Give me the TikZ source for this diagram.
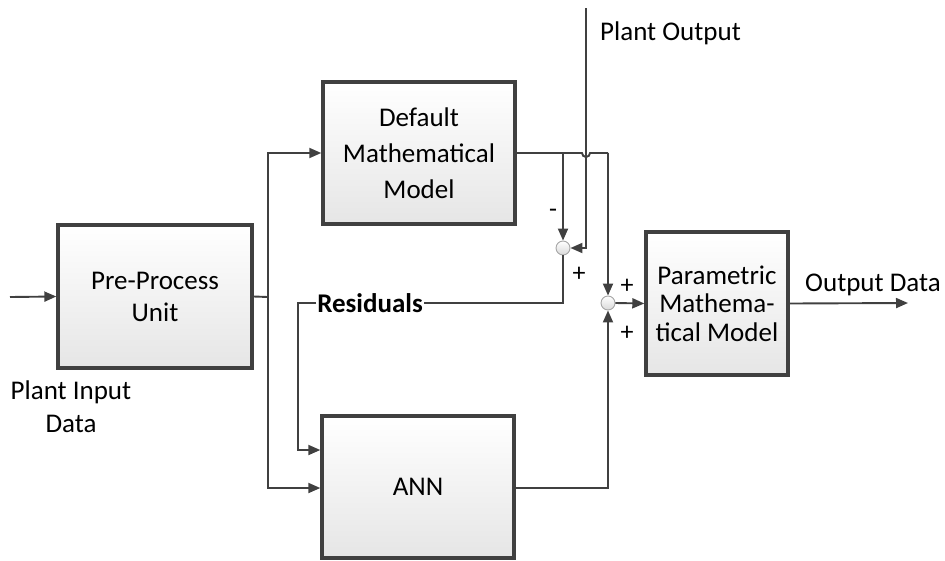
\documentclass[tikz,border=0pt]{standalone}
\usepackage{fontspec}
\setmainfont{Carlito}
\usetikzlibrary{arrows.meta,shadows}
\definecolor{ln}{HTML}{404040}
\tikzset{
  blk/.style={draw=ln, line width=3.4pt, rectangle, top color=white, bottom color=black!10,
    drop shadow={opacity=0.25, shadow xshift=2pt, shadow yshift=-2pt},
    align=center, inner sep=2pt, font=\fontsize{27}{36}\selectfont},
  sumc/.style={draw=black!35, line width=0.9pt, circle, minimum size=14pt, inner sep=0pt,
    top color=white, bottom color=black!15},
  con/.style={draw=ln, line width=1.9pt},
  arr/.style={con, -{Triangle[length=12pt,width=10pt]}},
  lbl/.style={font=\fontsize{27}{33}\selectfont, inner sep=0pt, align=center},
  sgn/.style={font=\fontsize{26}{26}\selectfont, inner sep=0pt},
}
\begin{document}
\begin{tikzpicture}[x=1pt,y=-1pt]
\useasboundingbox (0,0) rectangle (945,560);
% boxes
\node[blk, minimum width=194pt, minimum height=143pt, font=\fontsize{27}{32}\selectfont] (pre) at (155,296.5) {Pre-Process\\Unit};
\node[blk, minimum width=192pt, minimum height=142pt] (dmm) at (419,153) {Default\\Mathematical\\Model};
\node[blk, minimum width=192pt, minimum height=142pt] (ann) at (418,487) {ANN};
\node[blk, minimum width=142pt, minimum height=143pt, font=\fontsize{27}{28.5}\selectfont] (pmm) at (717,303.5) {Parametric\\Mathema-\\tical Model};
% summing junctions
\node[sumc] (s1) at (563,248) {};
\node[sumc] (s2) at (608,303) {};
% free ends / corners
\coordinate (in) at (10,297);
\coordinate (trunk) at (268,297);
\coordinate (po) at (586,8);
\coordinate (out) at (908,303);
% labels
\node[lbl, anchor=west] (potext) at (600,33) {Plant Output};
\node[lbl] (pitext) at (71,407) {Plant Input\\Data};
\node[lbl, anchor=south] (odtext) at (873,296) {Output Data};
\node[lbl, inner sep=1pt, font=\bfseries\fontsize{27}{33}\selectfont] (res) at (370,303) {Residuals};
\node[sgn] (m1) at (553,213) {-};
\node[sgn] (p1) at (579,274) {+};
\node[sgn] (p2) at (627,286) {+};
\node[sgn] (p3) at (627,333) {+};
% connectors
\draw[arr] (in) -- (pre.west);
\draw[con] (pre.east) -- (trunk);
\draw[arr] (trunk) |- (dmm.west);
\draw[arr] (trunk) |- (ann.west |- 0,488);
\draw[con] (dmm.east) -- (582,153) arc[start angle=180, end angle=0, radius=4] -- (608,153);
\draw[arr] (608,153) -- (s2.north);
\draw[arr] (563,153) -- (s1.north);
\draw[arr] (po) |- (s1.east);
\draw[con] (s1.south) |- (res.east);
\draw[arr] (res.west) -| (298,450) -- (ann.west |- 0,450);
\draw[arr] (ann.east |- 0,488) -| (s2.south);
\draw[arr] (s2.east) -- (pmm.west);
\draw[arr] (pmm.east) -- (out);
\end{tikzpicture}
\end{document}
